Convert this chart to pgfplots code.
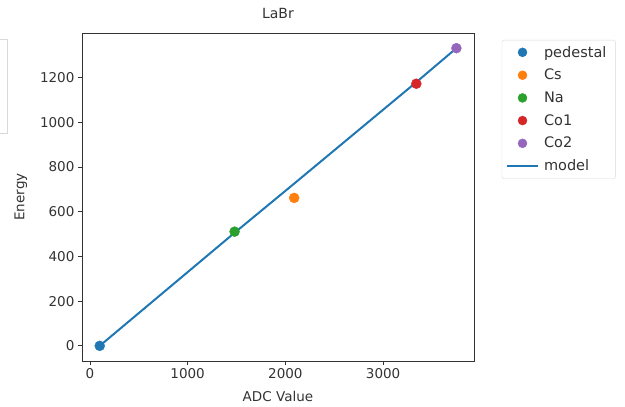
\documentclass[border=0pt]{standalone}
\usepackage{pgfplots}
\pgfplotsset{compat=1.18}
\usepackage{fontspec}
\setmainfont{DejaVu Sans}
\definecolor{C0}{HTML}{1F77B4}
\definecolor{C1}{HTML}{FF7F0E}
\definecolor{C2}{HTML}{2CA02C}
\definecolor{C3}{HTML}{D62728}
\definecolor{C4}{HTML}{9467BD}
\definecolor{axgray}{HTML}{333333}
\pgfplotsset{
  dotleg/.style={legend image code/.code={\draw[##1, mark size=4.5pt] plot coordinates {(15.5pt,0pt)};}},
  lineleg/.style={legend image code/.code={\draw[##1] (0pt,0pt) -- (31pt,0pt);}},
}
\begin{document}
\begin{tikzpicture}
\begin{axis}[
  scale only axis,
  clip=false,
  width=392pt, height=328pt,
  xmin=-82, xmax=3930,
  ymin=-68, ymax=1400,
  xtick={0,1000,2000,3000},
  ytick={0,200,400,600,800,1000,1200},
  tick align=outside,
  tick pos=left,
  major tick length=4pt,
  every tick/.style={axgray, line width=0.8pt},
  axis line style={axgray, line width=0.8pt},
  /pgf/number format/assume math mode=true,
  /pgf/number format/1000 sep={},
  ticklabel style={font=\fontsize{13.5}{16}\selectfont, text=axgray},
  title={LaBr},
  title style={font=\fontsize{14}{16}\selectfont, text=axgray, yshift=5pt},
  xlabel={ADC Value},
  ylabel={Energy},
  label style={font=\fontsize{13.5}{16}\selectfont, text=axgray},
  xlabel style={yshift=-6pt},
  ylabel style={yshift=6pt},
  legend style={at={(1.071,0.979)}, anchor=north west,
    font=\fontsize{14.5}{17}\selectfont, text=axgray,
    draw=black!15, rounded corners=2pt, inner xsep=4pt, inner ysep=4pt,
    row sep=6.5pt, cells={anchor=west},
    nodes={inner xsep=5pt}},
  legend cell align=left,
]
\addplot[only marks, mark=*, mark size=5pt, color=C0, mark options={draw=C0, fill=C0}, dotleg] coordinates {(100,0)};
\addlegendentry{pedestal}
\addplot[only marks, mark=*, mark size=5pt, color=C1, mark options={draw=C1, fill=C1}, dotleg] coordinates {(2090,662)};
\addlegendentry{Cs}
\addplot[only marks, mark=*, mark size=5pt, color=C2, mark options={draw=C2, fill=C2}, dotleg] coordinates {(1480,511)};
\addlegendentry{Na}
\addplot[only marks, mark=*, mark size=5pt, color=C3, mark options={draw=C3, fill=C3}, dotleg] coordinates {(3340,1173)};
\addlegendentry{Co1}
\addplot[only marks, mark=*, mark size=5pt, color=C4, mark options={draw=C4, fill=C4}, dotleg] coordinates {(3750,1332)};
\addlegendentry{Co2}
\addplot[no marks, color=C0, line width=2pt, lineleg] coordinates {(100,0) (1480,506) (2090,726) (3340,1180) (3750,1332)};
\addlegendentry{model}
\draw[black!15, line width=0.8pt] (rel axis cs:-0.22,0.979) -- (rel axis cs:-0.189,0.979) -- (rel axis cs:-0.189,0.695) -- (rel axis cs:-0.22,0.695);
\coordinate (bbA) at (rel axis cs:-0.209,1.1006);
\coordinate (bbB) at (rel axis cs:1.3852,-0.1372);
\end{axis}
\pgfresetboundingbox
\path (bbA) rectangle (bbB);
\end{tikzpicture}
\end{document}
